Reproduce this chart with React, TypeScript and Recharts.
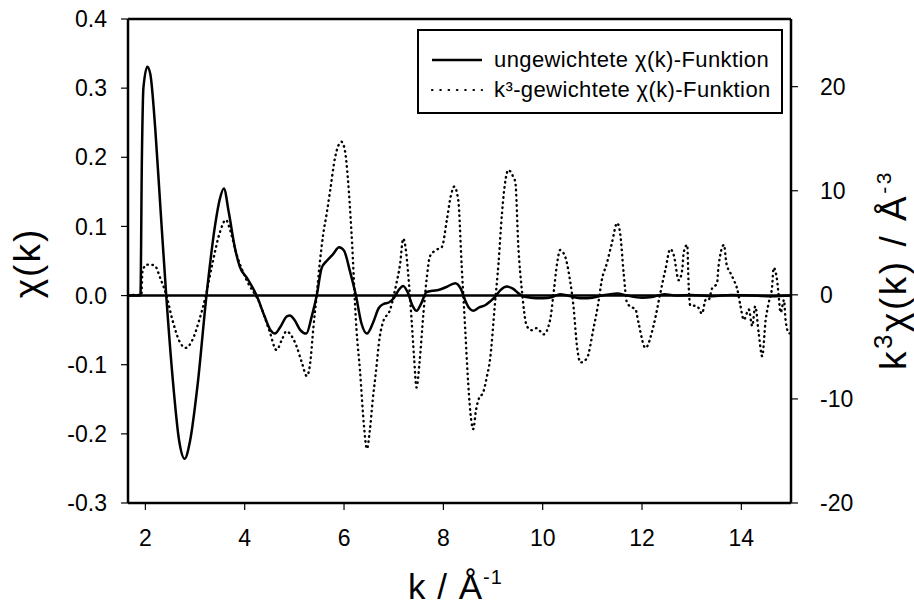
import { LineChart, Line, XAxis, YAxis, ReferenceLine } from 'recharts'

// ungewichtete chi(k), linke Achse
const kRaw = [
  1.65, 1.9, 1.93, 1.96, 2.04, 2.1, 2.2, 2.3, 2.42, 2.55, 2.68, 2.79, 2.9, 3.05, 3.23, 3.4, 3.5, 3.58,
  3.68, 3.8, 3.9, 4.05, 4.24, 4.4, 4.52, 4.61, 4.72, 4.85, 4.91, 5.0, 5.12, 5.24, 5.35, 5.45, 5.55,
  5.65, 5.78, 5.9, 6.0, 6.12, 6.24, 6.35, 6.46, 6.58, 6.7, 6.8, 6.9, 7.0, 7.1, 7.19, 7.28, 7.38, 7.46,
  7.55, 7.66, 7.78, 7.9, 8.05, 8.24, 8.35, 8.44, 8.52, 8.6, 8.72, 8.84, 8.95, 9.04, 9.15, 9.28, 9.4,
  9.52, 9.61, 9.75, 10.0, 10.2, 10.35, 10.5, 10.8, 11.0, 11.2, 11.5, 11.7, 12.0, 12.2, 12.45, 12.7,
  13.0, 13.4, 13.8, 14.2, 14.6, 15.0,
]
const chiRaw = [
  0, 0, 0.2, 0.3, 0.331, 0.32, 0.24, 0.13, 0.0, -0.12, -0.21, -0.236, -0.21, -0.13, 0.0, 0.1, 0.14, 0.155,
  0.12, 0.07, 0.042, 0.025, 0.0, -0.03, -0.05, -0.055, -0.045, -0.03, -0.029, -0.035, -0.05, -0.055, -0.03, 0.0, 0.04,
  0.05, 0.06, 0.07, 0.065, 0.035, 0.0, -0.04, -0.055, -0.04, -0.018, -0.012, -0.01, -0.004, 0.008, 0.014, 0.005, -0.015, -0.022,
  -0.012, 0.005, 0.007, 0.008, 0.012, 0.018, 0.01, -0.007, -0.018, -0.022, -0.017, -0.014, -0.008, -0.002, 0.008, 0.013, 0.01,
  0.003, -0.001, -0.003, -0.004, -0.002, 0.002, 0.0, -0.004, -0.003, 0.0, 0.003, 0.0, -0.003, -0.002, 0.002, 0.0,
  0.001, -0.001, 0.001, 0.0, -0.001, 0.0,
]

// k^3-gewichtete chi(k), rechte Achse
const kWeighted = [
  1.65, 1.92, 1.94, 2.02, 2.09, 2.19, 2.3, 2.42, 2.55, 2.68, 2.81, 2.95, 3.08, 3.22, 3.35, 3.5, 3.62, 3.72,
  3.83, 4.04, 4.3, 4.5, 4.64, 4.75, 4.84, 4.95, 5.04, 5.15, 5.25, 5.32, 5.38, 5.45, 5.51, 5.58, 5.65, 5.72,
  5.82, 5.95, 6.02, 6.08, 6.15, 6.25, 6.32, 6.4, 6.46, 6.52, 6.58, 6.64, 6.72, 6.78, 6.93, 7.05, 7.13, 7.19,
  7.24, 7.29, 7.36, 7.41, 7.46, 7.52, 7.6, 7.67, 7.73, 7.85, 7.97, 8.07, 8.15, 8.22, 8.3, 8.37, 8.44, 8.5,
  8.56, 8.6, 8.66, 8.72, 8.8, 8.87, 8.94, 9.04, 9.11, 9.18, 9.25, 9.31, 9.4, 9.45, 9.51, 9.58, 9.68, 9.78,
  9.88, 10.02, 10.15, 10.22, 10.29, 10.35, 10.45, 10.55, 10.62, 10.69, 10.76, 10.89, 11.02, 11.12, 11.19,
  11.29, 11.39, 11.5, 11.56, 11.63, 11.7, 11.8, 11.87, 11.93, 12.07, 12.23, 12.37, 12.47, 12.57, 12.64,
  12.74, 12.81, 12.84, 12.91, 12.94, 12.97, 13.11, 13.21, 13.28, 13.34, 13.41, 13.51, 13.54, 13.65, 13.7,
  13.78, 13.85, 13.92, 13.98, 14.05, 14.15, 14.22, 14.28, 14.35, 14.42, 14.49, 14.55, 14.62, 14.65, 14.72,
  14.75, 14.79, 14.86, 14.89, 14.96, 15.0,
]
const k3chi = [
  0, 0, 2.2, 2.9, 2.9, 2.8, 1.6, 0.0, -2.5, -4.4, -5.1, -4.3, -2.5, 0.0, 3.0, 6.0, 7.2, 6.0,
  4.0, 1.4, -0.8, -3.5, -5.3, -4.3, -3.5, -4.0, -4.9, -6.5, -7.8, -6.5, -3.3, 0.0, 3.0, 5.8, 7.8, 10.0,
  13.2, 14.7, 13.8, 11.0, 6.0, -3.3, -7.2, -12.5, -14.8, -13.0, -10.0, -7.5, -4.0, -2.7, -1.4, 1.0, 3.0, 5.4,
  4.5, 2.1, -2.4, -6.0, -8.9, -6.5, -1.7, 1.8, 3.7, 4.3, 4.6, 7.2, 9.5, 10.4, 9.1, 2.7, -3.3, -8.5,
  -12.0, -12.9, -11.0, -9.9, -9.4, -8.0, -6.2, -0.8, 3.0, 7.8, 11.0, 12.0, 11.4, 10.8, 4.6, 0.5, -3.0, -3.4,
  -3.2, -3.8, -2.4, 0.2, 3.0, 4.3, 3.7, 1.4, -1.1, -4.9, -6.5, -6.1, -3.3, -0.8, 1.4,
  3.0, 4.9, 6.9, 5.9, 2.1, -0.8, -1.2, -1.4, -2.7, -5.1, -3.0, 0.2, 2.4, 4.4, 3.8,
  1.4, 2.4, 4.1, 4.8, 0.8, -1.0, -1.1, -1.8, -0.5, -0.5, 0.6, 1.1, 2.7, 4.8, 3.0,
  2.1, 1.4, 0.5, -1.0, -2.4, -1.4, -3.0, -1.1, -3.7, -5.9, -2.4, -0.8, 0.8, 2.6, 1.4,
  0.0, -1.7, -0.5, -2.4, -3.7, -3.7,
]

const xTicks = [2, 4, 6, 8, 10, 12, 14]
const leftTicks = [-0.3, -0.2, -0.1, 0.0, 0.1, 0.2, 0.3, 0.4]
const rightTicks = [-20, -10, 0, 10, 20]

const legendLabels = ['ungewichtete \u03c7(k)-Funktion', 'k\u00b3-gewichtete \u03c7(k)-Funktion']

const FONT = '"Liberation Sans", Arial, sans-serif'

const rawData = kRaw.map((k, i) => ({ k, y: chiRaw[i] }))
const weightedData = kWeighted.map((k, i) => ({ k, y: k3chi[i] }))

const tickStyle = { fill: '#000', fontSize: 23, fontFamily: FONT }

function XTitle(props: any) {
  const { x, width } = props.viewBox
  return (
    <text x={x + width / 2 - 4} y={599} textAnchor="middle" fontSize={35} fontFamily={FONT} fill="#000" letterSpacing={1}>
      k / Å<tspan dy={-15} fontSize={20}>-1</tspan>
    </text>
  )
}

function LeftTitle() {
  return (
    <text x={40} y={263} transform="rotate(-90, 40, 263)" textAnchor="middle" fontSize={37} fontFamily={FONT} fill="#000" letterSpacing={2}>
      χ(k)
    </text>
  )
}

function RightTitle() {
  return (
    <text x={906} y={270} transform="rotate(-90, 906, 270)" textAnchor="middle" fontSize={37} fontFamily={FONT} fill="#000" letterSpacing={2.5}>
      k<tspan dy={-14} fontSize={26}>3</tspan>
      <tspan dy={14}>χ(k) / Å</tspan>
      <tspan dy={-15} fontSize={21}>-3</tspan>
    </text>
  )
}

export default function App() {
  return (
    <div style={{ position: 'absolute', left: 0, top: 0, width: 914, height: 609, background: '#fff' }}>
      <LineChart width={914} height={609} margin={{ top: 19, right: 0, bottom: 0, left: 0 }}>
        <XAxis
          dataKey="k"
          type="number"
          domain={[1.65, 15]}
          allowDataOverflow
          ticks={xTicks}
          height={106}
          tickSize={7}
          tickMargin={20}
          tick={tickStyle}
          axisLine={{ stroke: '#000', strokeWidth: 2.5 }}
          tickLine={{ stroke: '#000', strokeWidth: 1.2 }}
          label={{ content: XTitle }}
        />
        <YAxis
          yAxisId="left"
          domain={[-0.3, 0.4]}
          allowDataOverflow
          ticks={leftTicks}
          width={128}
          tickSize={7}
          tickMargin={14}
          tick={tickStyle}
          tickFormatter={(v: number) => v.toFixed(1)}
          axisLine={{ stroke: '#000', strokeWidth: 2.5 }}
          tickLine={{ stroke: '#000', strokeWidth: 1.2 }}
          label={{ content: LeftTitle }}
        />
        <YAxis
          yAxisId="right"
          orientation="right"
          domain={[-20, 26.5]}
          allowDataOverflow
          ticks={rightTicks}
          width={123}
          tickSize={7}
          tickMargin={22}
          tick={tickStyle}
          axisLine={{ stroke: '#000', strokeWidth: 2.5 }}
          tickLine={{ stroke: '#000', strokeWidth: 1.2 }}
          label={{ content: RightTitle }}
        />
        <ReferenceLine yAxisId="left" y={0.4} stroke="#000" strokeWidth={2.5} />
        <ReferenceLine yAxisId="left" y={0} stroke="#000" strokeWidth={2.5} />
        <Line
          data={weightedData}
          yAxisId="right"
          dataKey="y"
          type="monotone"
          stroke="#000"
          strokeWidth={2.4}
          strokeLinecap="round"
          strokeDasharray="0.5 4.6"
          dot={false}
          activeDot={false}
          isAnimationActive={false}
        />
        <Line
          data={rawData}
          yAxisId="left"
          dataKey="y"
          type="monotone"
          stroke="#000"
          strokeWidth={2.5}
          dot={false}
          activeDot={false}
          isAnimationActive={false}
        />
      </LineChart>
      <div
        style={{
          position: 'absolute',
          left: 417,
          top: 29,
          width: 366,
          height: 85,
          boxSizing: 'border-box',
          border: '2.5px solid #000',
          background: '#fff',
          fontFamily: FONT,
          fontSize: 22,
          color: '#000',
        }}
      >
        {legendLabels.map((label, i) => (
          <div key={label} style={{ position: 'absolute', left: 11, top: 14 + i * 30, height: 30, display: 'flex', alignItems: 'center', whiteSpace: 'nowrap' }}>
            <svg width={56} height={10} style={{ marginRight: 8 }}>
              <line
                x1={2}
                y1={5}
                x2={52}
                y2={5}
                stroke="#000"
                strokeWidth={i === 0 ? 2.5 : 2.2}
                strokeLinecap={i === 0 ? 'butt' : 'round'}
                strokeDasharray={i === 0 ? undefined : '0.5 7.8'}
              />
            </svg>
            <span style={{ letterSpacing: 0.4 }}>{label}</span>
          </div>
        ))}
      </div>
    </div>
  )
}
